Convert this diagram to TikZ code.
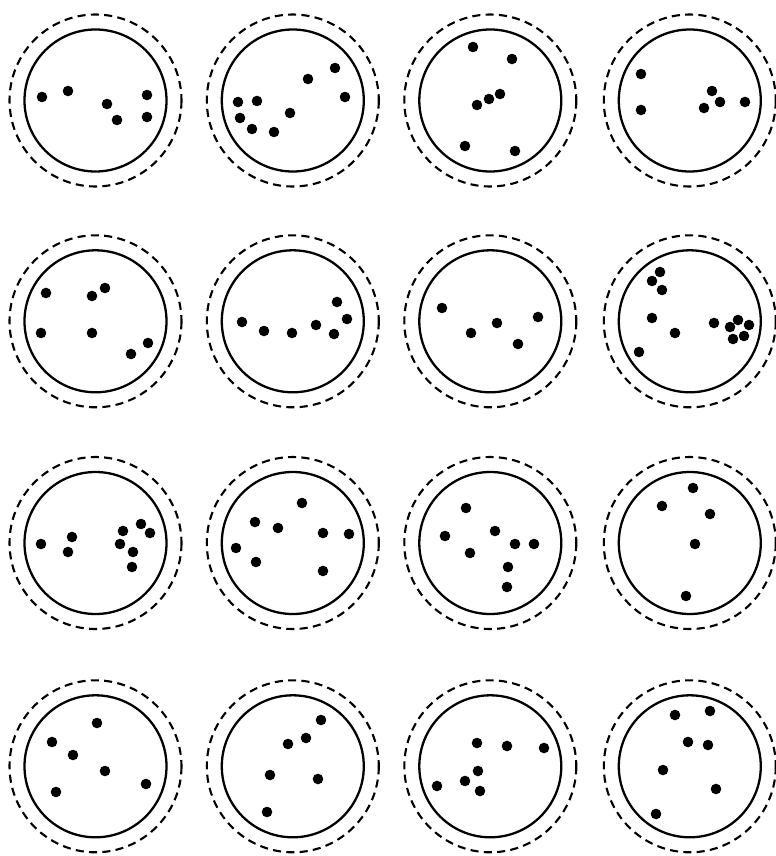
\documentclass[tikz,border=0pt]{standalone}
\usepackage{tikz}

\begin{document}
\begin{tikzpicture}[x=0.02cm, y=-0.02cm,
    piastra/.style={line width=1.3pt},
    alone/.style={line width=1.2pt, dash pattern=on 4.6pt off 3pt},
    colonia/.style={fill=black}]
  \useasboundingbox (0,0) rectangle (775,856);

  % --- piastre 4 x 4 (1 unità = 1 pixel) ---
  \foreach \x in {95.5,292.8,490.3,689.8}
    \foreach \y in {100.5,321.3,543,766.3} {
      \draw[piastra] (\x,\y) circle (71);
      \draw[alone] (\x,\y) circle (86);
    }

  % --- colonie, riga 1 ---
  \foreach \p in {(42,97),(68,91),(107,104),(117,120),(147,95),(147,117)}
    \fill[colonia] \p circle (5.3);
  \foreach \p in {(238,102),(257,101),(240,118),(252,129),(274,132),(290,113),(308,79),(335,68),(345,97)}
    \fill[colonia] \p circle (5.3);
  \foreach \p in {(473,47),(512,59),(477,105),(489,99),(500,94),(465,146),(515,151)}
    \fill[colonia] \p circle (5.3);
  \foreach \p in {(641,74),(641,110),(712,91),(720,102),(704,108),(745,102)}
    \fill[colonia] \p circle (5.3);

  % --- colonie, riga 2 ---
  \foreach \p in {(46,293),(92,296),(105,288),(41,333),(92,333),(148,343),(131,354)}
    \fill[colonia] \p circle (5.3);
  \foreach \p in {(242,322),(264,331),(292,333),(316,325),(334,334),(337,302),(347,319)}
    \fill[colonia] \p circle (5.3);
  \foreach \p in {(442,308),(471,333),(497,323),(518,344),(538,317)}
    \fill[colonia] \p circle (5.3);
  \foreach \p in {(660,272),(652,281),(662,290),(652,318),(675,333),(639,352),
                  (714,323),(730,327),(738,320),(749,325),(733,339),(744,336)}
    \fill[colonia] \p circle (5.3);

  % --- colonie, riga 3 ---
  \foreach \p in {(41,544),(72,537),(68,552),(123,531),(120,544),(141,524),(150,533),(133,552),(132,567)}
    \fill[colonia] \p circle (5.3);
  \foreach \p in {(302,503),(255,522),(278,528),(323,533),(349,534),(236,548),(256,562),(323,571)}
    \fill[colonia] \p circle (5.3);
  \foreach \p in {(466,508),(445,536),(495,531),(515,544),(534,544),(470,553),(508,567),(507,587)}
    \fill[colonia] \p circle (5.3);
  \foreach \p in {(693,488),(662,506),(710,514),(695,544),(686,596)}
    \fill[colonia] \p circle (5.3);

  % --- colonie, riga 4 ---
  \foreach \p in {(97,723),(52,742),(73,755),(105,771),(146,784),(56,792)}
    \fill[colonia] \p circle (5.3);
  \foreach \p in {(321,720),(306,738),(288,744),(270,775),(318,779),(267,812)}
    \fill[colonia] \p circle (5.3);
  \foreach \p in {(477,743),(507,746),(544,748),(478,771),(465,781),(437,786),(480,791)}
    \fill[colonia] \p circle (5.3);
  \foreach \p in {(675,715),(710,711),(688,742),(708,745),(663,770),(716,789),(656,814)}
    \fill[colonia] \p circle (5.3);
\end{tikzpicture}
\end{document}
